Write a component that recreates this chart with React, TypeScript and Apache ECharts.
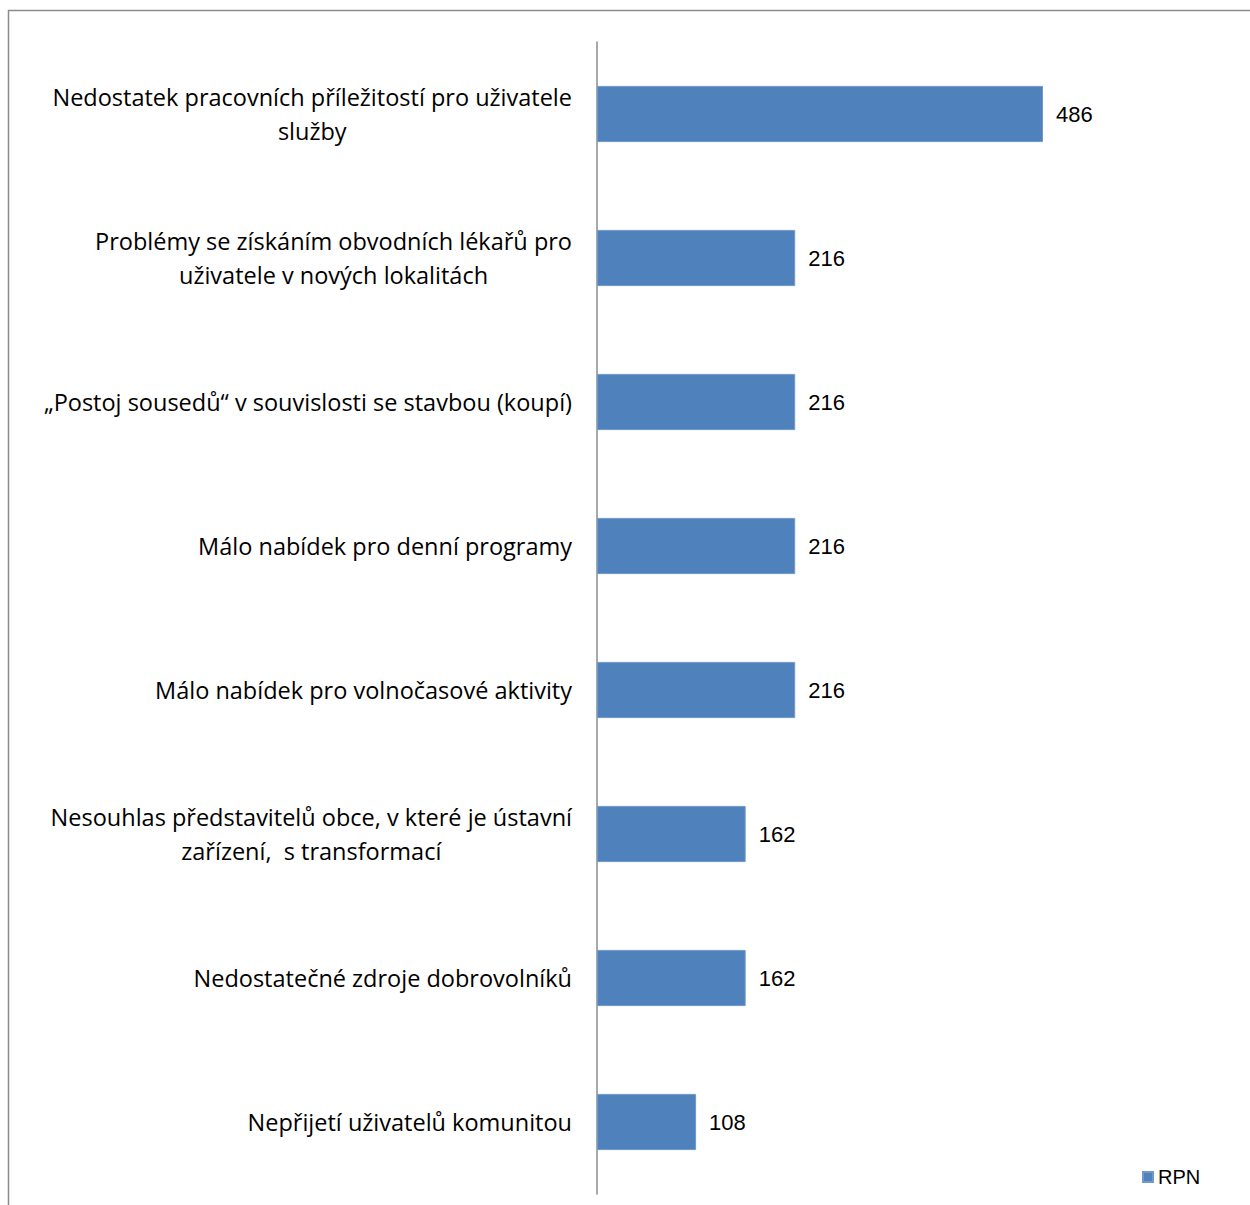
import React, { useEffect, useRef } from "react";
import * as echarts from "echarts";

const categories = [
  "Nedostatek pracovních příležitostí pro uživatele\nslužby",
  "Problémy se získáním obvodních lékařů pro\nuživatele v nových lokalitách",
  "„Postoj sousedů“ v souvislosti se stavbou (koupí)",
  "Málo nabídek pro denní programy",
  "Málo nabídek pro volnočasové aktivity",
  "Nesouhlas představitelů obce, v které je ústavní\nzařízení,  s transformací",
  "Nedostatečné zdroje dobrovolníků",
  "Nepřijetí uživatelů komunitou",
];
const rpnValues = [486, 216, 216, 216, 216, 162, 162, 108];
const seriesName = "RPN";

export default function App() {
  const ref = useRef<HTMLDivElement>(null);
  useEffect(() => {
    if (!ref.current) return;
    const chart = echarts.init(ref.current, null, { renderer: "svg" });
    chart.setOption({
      animation: false,
      backgroundColor: "#ffffff",
      graphic: [
        {
          type: "rect",
          shape: { x: 8.5, y: 10.5, width: 1400, height: 1400 },
          style: { fill: "none", stroke: "#8c8c8c", lineWidth: 1.5 },
          silent: true,
        },
      ],
      legend: {
        show: true,
        left: 1137,
        top: 1162,
        itemWidth: 10,
        itemHeight: 10,
        icon: "rect",
        textStyle: {
          fontFamily: "Liberation Sans, Arial, sans-serif",
          fontSize: 20,
          color: "#000",
        },
        data: [seriesName],
      },
      grid: { left: 597, top: 42, width: 550.6, height: 1152, containLabel: false },
      xAxis: {
        type: "value",
        min: 0,
        max: 600,
        show: false,
        splitLine: { show: false },
      },
      yAxis: {
        type: "category",
        data: categories,
        inverse: true,
        axisLine: { show: true, lineStyle: { color: "#8c8c8c", width: 1.5 } },
        axisTick: { show: false },
        axisLabel: {
          margin: 25,
          formatter: (v: string) =>
            v
              .split("\n")
              .map((l) => `{c|${l}}`)
              .join("\n"),
          rich: {
            c: {
              align: "center",
              fontFamily: "Open Sans, Noto Sans, sans-serif",
              fontSize: 23.5,
              lineHeight: 34,
              color: "#000",
            },
          },
        },
      },
      series: [
        {
          name: seriesName,
          type: "bar",
          data: rpnValues,
          barWidth: "39%",
          itemStyle: { color: "#4F81BD", borderColor: "#6f99cc", borderWidth: 1 },
          label: {
            show: true,
            position: "right",
            distance: 13,
            fontFamily: "Liberation Sans, Arial, sans-serif",
            fontSize: 22,
            color: "#000",
          },
        },
      ],
    });
    return () => chart.dispose();
  }, []);
  return (
    <div
      ref={ref}
      style={{ position: "absolute", left: 0, top: 0, width: 1250, height: 1205 }}
    />
  );
}
